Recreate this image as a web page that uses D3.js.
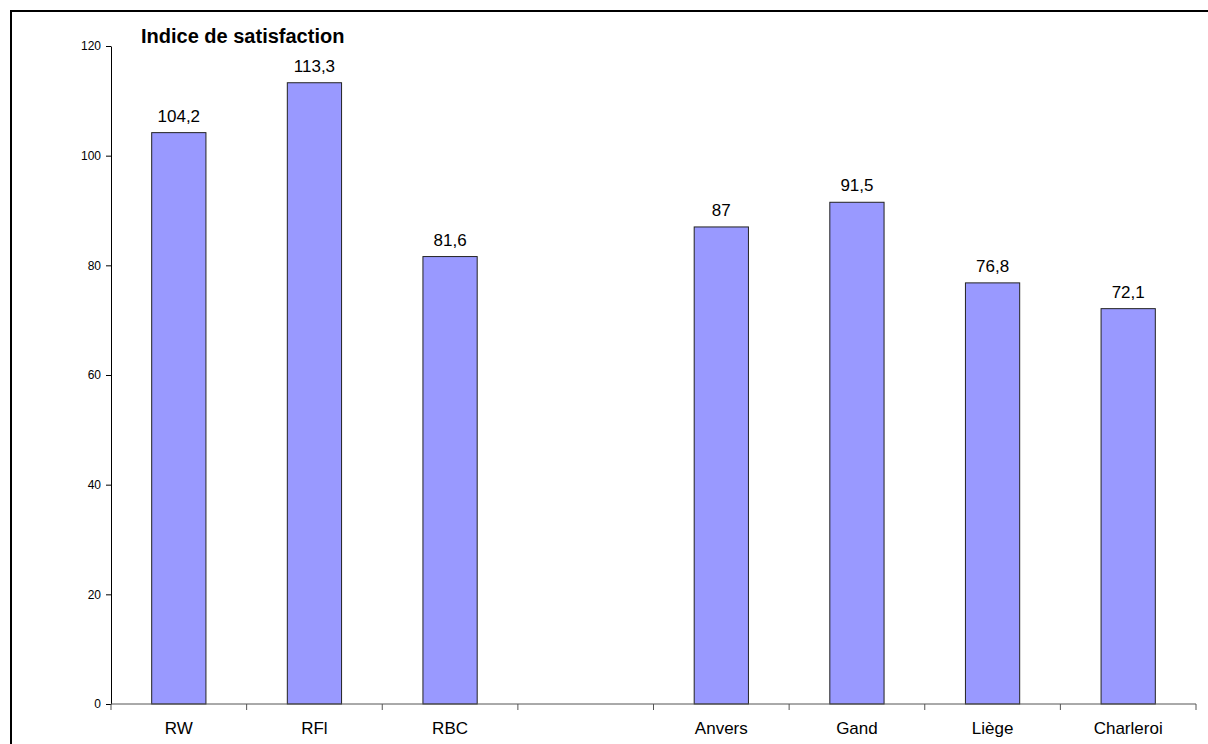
<!DOCTYPE html>
<html>
<head>
<meta charset="utf-8">
<script src="https://cdn.jsdelivr.net/npm/d3@7/dist/d3.min.js"></script>
<style>
  html, body { margin: 0; padding: 0; background: #fff; }
  svg { display: block; font-family: Arial, "Liberation Sans", sans-serif; }
</style>
</head>
<body>
<svg id="chart" width="1208" height="744"></svg>
<script>
// Satisfaction index by region and city (the blank slot separates the two groups)
const categories = ["RW", "RFl", "RBC", "", "Anvers", "Gand", "Liège", "Charleroi"];
const values     = [104.2, 113.3, 81.6, null, 87, 91.5, 76.8, 72.1];
const valueLabels = ["104,2", "113,3", "81,6", "", "87", "91,5", "76,8", "72,1"];
const yTicks = [0, 20, 40, 60, 80, 100, 120];
const title = "Indice de satisfaction";

const svg = d3.select("#chart");

// outer frame
svg.append("rect")
  .attr("x", 11).attr("y", 11)
  .attr("width", 1208).attr("height", 744)
  .attr("fill", "none").attr("stroke", "#000").attr("stroke-width", 2);

const plotLeft = 111, plotRight = 1196, plotTop = 46, plotBottom = 704;

const x = d3.scaleBand().domain(d3.range(categories.length)).range([plotLeft, plotRight]).padding(0);
const y = d3.scaleLinear().domain([0, 120]).range([plotBottom, plotTop]);

const barW = x.bandwidth() * 0.4;

// bars
const data = categories.map((c, i) => ({ i, c, v: values[i], label: valueLabels[i] }))
  .filter(d => d.v !== null);

svg.append("g").selectAll("rect").data(data).join("rect")
  .attr("x", d => x(d.i) + (x.bandwidth() - barW) / 2)
  .attr("y", d => y(d.v))
  .attr("width", barW)
  .attr("height", d => y(0) - y(d.v))
  .attr("fill", "#9999FF")
  .attr("stroke", "#222")
  .attr("stroke-width", 1);

// value labels
svg.append("g").selectAll("text").data(data).join("text")
  .attr("x", d => x(d.i) + x.bandwidth() / 2)
  .attr("y", d => y(d.v) - 11)
  .attr("text-anchor", "middle")
  .attr("font-size", 17)
  .attr("fill", "#000")
  .text(d => d.label);

// y axis
const yAxis = svg.append("g").attr("transform", `translate(${plotLeft},0)`)
  .call(d3.axisLeft(y).tickValues(yTicks).tickSize(5).tickPadding(5).tickSizeOuter(0));
yAxis.select(".domain").attr("stroke", "#000");
yAxis.selectAll(".tick line").attr("stroke", "#000");
yAxis.selectAll("text").attr("font-size", 12).attr("font-family", "Arial, 'Liberation Sans', sans-serif").attr("fill", "#000");

// x axis baseline with ticks at band boundaries
const xg = svg.append("g");
xg.append("line")
  .attr("x1", plotLeft).attr("x2", plotRight)
  .attr("y1", y(0)).attr("y2", y(0))
  .attr("stroke", "#555").attr("stroke-width", 1);
const boundaries = d3.range(categories.length + 1).map(i => i < categories.length ? x(i) : x(i - 1) + x.bandwidth());
xg.selectAll("line.tk").data(boundaries).join("line")
  .attr("class", "tk")
  .attr("x1", d => d).attr("x2", d => d)
  .attr("y1", y(0)).attr("y2", y(0) + 6)
  .attr("stroke", "#555");
xg.selectAll("text").data(categories.map((c, i) => ({ c, i }))).join("text")
  .attr("x", d => x(d.i) + x.bandwidth() / 2)
  .attr("y", 734)
  .attr("text-anchor", "middle")
  .attr("font-size", 17)
  .attr("fill", "#000")
  .text(d => d.c);

// title
svg.append("text")
  .attr("x", 141).attr("y", 43)
  .attr("font-size", 20).attr("font-weight", "bold")
  .attr("fill", "#000")
  .text(title);
</script>
</body>
</html>
